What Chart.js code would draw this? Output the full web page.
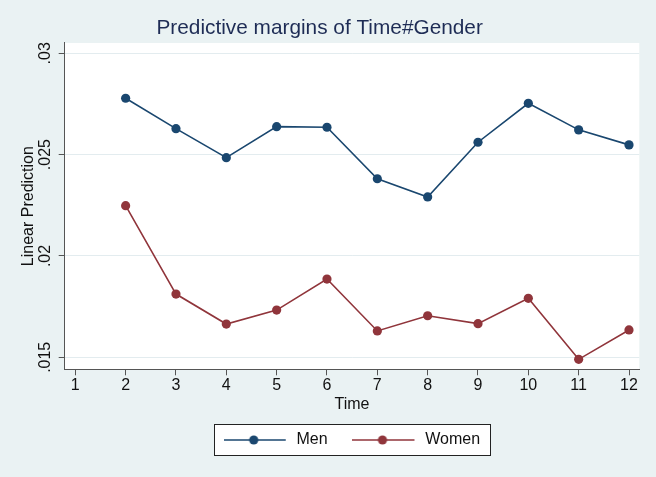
<!DOCTYPE html>
<html>
<head>
<meta charset="utf-8">
<script src="https://cdn.jsdelivr.net/npm/chart.js@4"></script>
<style>
  body { margin: 0; background: #eaf2f3; }
  canvas { display: block; }
</style>
</head>
<body>
<canvas id="chart" width="656" height="477"></canvas>
<script>
const timePoints = [2, 3, 4, 5, 6, 7, 8, 9, 10, 11, 12];
const menValues = [0.02778, 0.02628, 0.02485, 0.02638, 0.02635, 0.02381, 0.02291, 0.02561, 0.02753, 0.02622, 0.02548];
const womenValues = [0.02248, 0.01812, 0.01664, 0.01733, 0.01886, 0.01630, 0.01705, 0.01666, 0.01791, 0.01490, 0.01635];
const xTicks = [1, 2, 3, 4, 5, 6, 7, 8, 9, 10, 11, 12];
const yTicks = [0.015, 0.02, 0.025, 0.03];
const yTickLabels = [".015", ".02", ".025", ".03"];
const seriesNames = ["Men", "Women"];
const seriesColors = ["#1a476f", "#90353b"];

const FONT = "'Liberation Sans', Arial, sans-serif";
const textFont = { family: FONT, size: 16 };
const axisColor = "#555";

// legend symbol: short line with the marker on it, like Stata
function legendIcon(color) {
    const c = document.createElement("canvas");
    c.width = 65;
    c.height = 12;
    const ctx = c.getContext("2d");
    ctx.strokeStyle = color;
    ctx.lineWidth = 1.6;
    ctx.beginPath();
    ctx.moveTo(0, 6);
    ctx.lineTo(62, 6);
    ctx.stroke();
    ctx.fillStyle = color;
    ctx.beginPath();
    ctx.arc(30, 6, 4.6, 0, Math.PI * 2);
    ctx.fill();
    return c;
}
const legendIcons = seriesColors.map(legendIcon);

const backgroundPlugin = {
    id: "stataBackground",
    beforeDraw(chart) {
        const { ctx, chartArea, legend } = chart;
        ctx.save();
        ctx.fillStyle = "#eaf2f3";
        ctx.fillRect(0, 0, chart.width, chart.height);
        ctx.fillStyle = "#ffffff";
        ctx.fillRect(chartArea.left, chartArea.top, chartArea.right - chartArea.left, chartArea.bottom - chartArea.top);

        // box around legend
        const hb = legend.legendHitBoxes;
        if (hb && hb.length) {
            const first = hb[0];
            const last = hb[hb.length - 1];
            const cy = first.top + first.height / 2;
            const left = Math.round(first.left - 9.5) + 0.5;
            const right = Math.round(last.left + last.width + 9.5) + 0.5;
            const top = Math.round(cy - 15.7) + 0.5;
            const bottom = Math.round(cy + 15) + 0.5;
            ctx.fillStyle = "#ffffff";
            ctx.fillRect(left, top, right - left, bottom - top);
            ctx.strokeStyle = "#222";
            ctx.lineWidth = 1;
            ctx.strokeRect(left, top, right - left, bottom - top);
        }
        ctx.restore();
    }
};

const datasets = [menValues, womenValues].map((vals, i) => ({
    label: seriesNames[i],
    data: timePoints.map((t, j) => ({ x: t, y: vals[j] })),
    borderColor: seriesColors[i],
    backgroundColor: seriesColors[i],
    pointBackgroundColor: seriesColors[i],
    pointBorderWidth: 0,
    pointRadius: 4.6,
    borderWidth: 1.6,
    tension: 0
}));

new Chart(document.getElementById("chart"), {
    type: "line",
    data: { datasets },
    options: {
        responsive: false,
        animation: false,
        layout: { padding: { top: 0, left: 0, right: 16.7, bottom: 19 } },
        plugins: {
            title: {
                display: true,
                text: "Predictive margins of Time#Gender",
                color: "#1e2c55",
                font: { family: FONT, size: 20.8, weight: "normal" },
                padding: { top: 15.5, bottom: 2.5 }
            },
            legend: {
                position: "bottom",
                fullSize: false,
                labels: {
                    usePointStyle: true,
                    pointStyleWidth: 64.6,
                    padding: 25,
                    color: "#111",
                    font: textFont,
                    generateLabels(chart) {
                        return Chart.defaults.plugins.legend.labels.generateLabels(chart)
                            .map((l, i) => ({ ...l, pointStyle: legendIcons[i] }));
                    }
                }
            },
            tooltip: { enabled: false }
        },
        scales: {
            x: {
                type: "linear",
                min: 0.7894,
                max: 12.2046,
                afterBuildTicks(scale) {
                    scale.ticks = xTicks.map(v => ({ value: v }));
                },
                afterFit(scale) {
                    scale.height = 37.7;
                },
                ticks: {
                    color: "#111",
                    font: textFont,
                    padding: 1,
                    autoSkip: false,
                    maxRotation: 0,
                    callback: v => String(v)
                },
                grid: { drawOnChartArea: false, drawTicks: true, tickLength: 6, tickColor: axisColor },
                border: { display: true, color: axisColor, width: 1 },
                title: {
                    display: true,
                    text: "Time",
                    color: "#111",
                    font: textFont,
                    padding: { top: 0, bottom: -7.4 }
                }
            },
            y: {
                min: 0.014408,
                max: 0.030508,
                afterBuildTicks(scale) {
                    scale.ticks = yTicks.map(v => ({ value: v }));
                },
                afterFit(scale) {
                    scale.width = 64.7;
                },
                ticks: {
                    color: "#111",
                    font: textFont,
                    minRotation: 90,
                    maxRotation: 90,
                    crossAlign: "center",
                    padding: -2.8,
                    callback: v => yTickLabels[yTicks.indexOf(v)]
                },
                grid: { color: "#e3ecef", lineWidth: 1, tickLength: 6, tickColor: axisColor },
                border: { display: true, color: axisColor, width: 1 },
                title: {
                    display: true,
                    text: "Linear Prediction",
                    color: "#111",
                    font: textFont,
                    padding: { top: 18.5, bottom: 0 }
                }
            }
        }
    },
    plugins: [backgroundPlugin]
});
</script>
</body>
</html>
